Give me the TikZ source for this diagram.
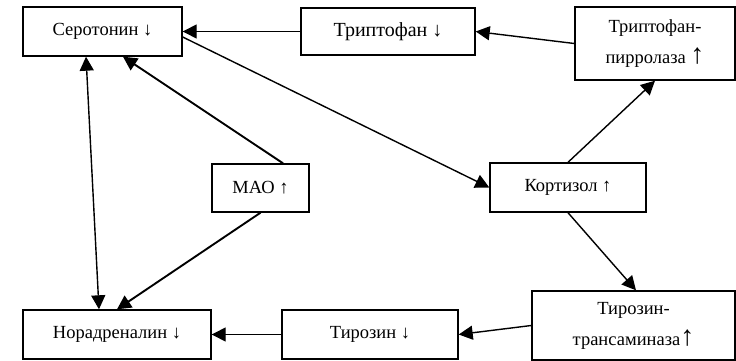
\documentclass[tikz,border=0pt]{standalone}
\usepackage{fontspec}
\setmainfont{Liberation Serif}
\usetikzlibrary{arrows.meta,calc}
\begin{document}
\begin{tikzpicture}[x=1pt,y=-1pt,
  box/.style={draw,line width=1.4pt,rectangle,inner sep=0pt,align=center,font=\fontsize{18.5}{31}\selectfont},
  tip/.tip={Triangle[length=14pt,width=14pt]},
  conn/.style={line width=1.4pt,-tip},
  thick conn/.style={conn,line width=1.9pt}]
\useasboundingbox (0,0) rectangle (736,361);
\node[box,minimum width=159pt,minimum height=49pt] (ser) at (102.5,31.5) {Серотонин ↓};
\node[box,minimum width=174pt,minimum height=47pt,font=\fontsize{20}{24}\selectfont] (tri) at (388,31.5) {Триптофан ↓};
\node[box,minimum width=160pt,minimum height=73pt] (pir) at (655,43.5) {Триптофан-\\пирролаза {\fontsize{28}{28}\selectfont↑}};
\node[box,minimum width=97pt,minimum height=48pt] (mao) at (260.5,188) {МАО ↑};
\node[box,minimum width=156pt,minimum height=49pt] (kor) at (568,187.5) {Кортизол ↑};
\node[box,minimum width=188pt,minimum height=49pt] (nor) at (117,334.5) {Норадреналин ↓};
\node[box,minimum width=176pt,minimum height=49pt] (tyr) at (370,334.5) {Тирозин ↓};
\node[box,minimum width=203pt,minimum height=69pt] (tta) at (633.5,325.5) {Тирозин-\\трансаминаза{\fontsize{28}{28}\selectfont↑}};
\draw[conn] (tri.west) -- (ser.east);
\draw[conn] (pir.west) -- (tri.east);
\draw[conn] (kor.north) -- (pir.south);
\draw[conn] ([yshift=-5.5pt]ser.east) -- (kor.west);
\draw[thick conn] ([xshift=22.5pt]mao.north) -- ([xshift=20.5pt]ser.south);
\draw[conn,tip-tip] ([xshift=-16.5pt]ser.south) -- ([xshift=-18pt]nor.north);
\draw[thick conn] (mao.south) -- (nor.north);
\draw[conn] (tyr.west) -- (nor.east);
\draw[conn] (tta.west) -- (tyr.east);
\draw[conn] (kor.south) -- ([xshift=2.5pt]tta.north);
\end{tikzpicture}
\end{document}
